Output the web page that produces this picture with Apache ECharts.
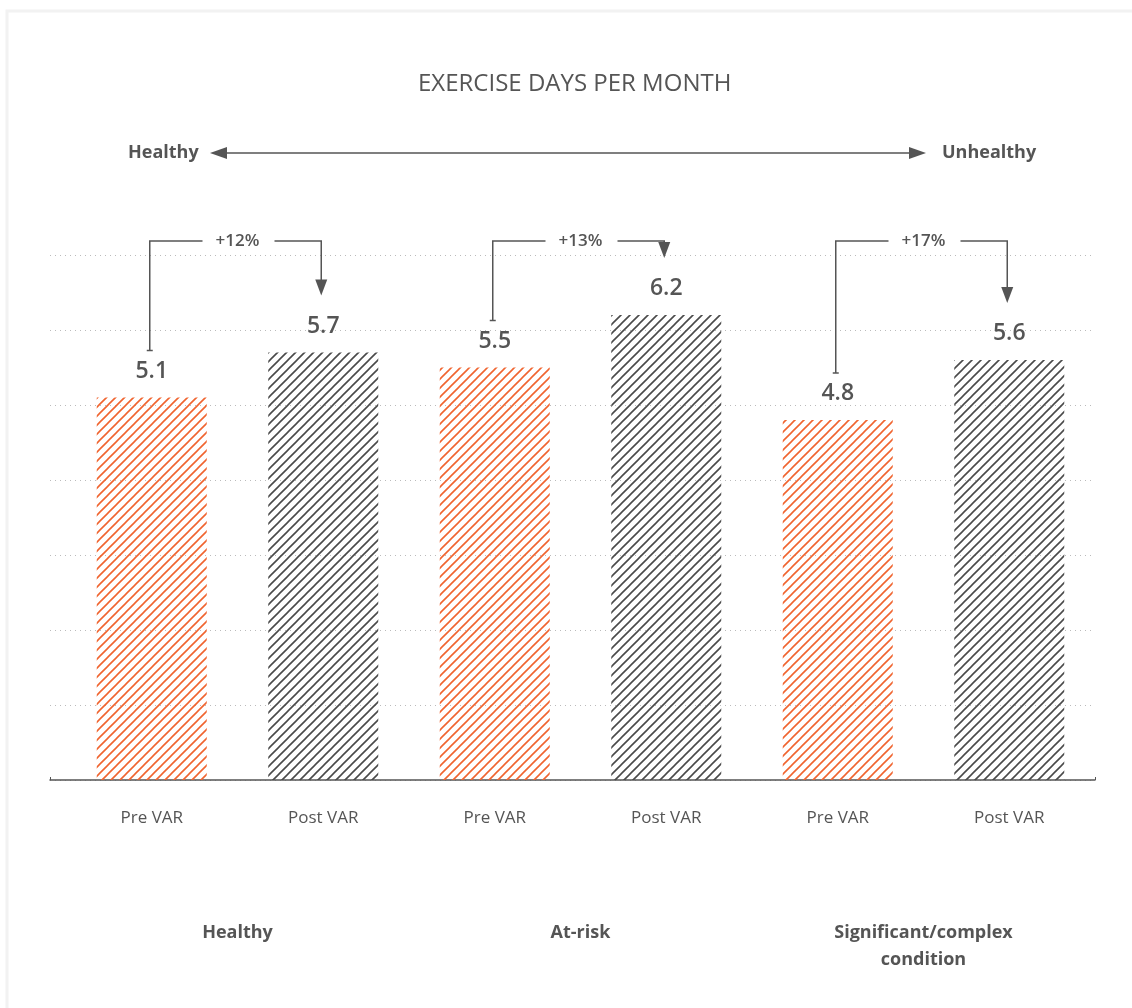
<!DOCTYPE html>
<html>
<head>
<meta charset="utf-8">
<script src="https://cdn.jsdelivr.net/npm/echarts@6/dist/echarts.min.js"></script>
<style>
  body { margin: 0; background: #fff; }
  #chart { width: 1132px; height: 1008px; }
</style>
</head>
<body>
<div id="chart"></div>
<script>
// data
const categories = ['Pre VAR', 'Post VAR', 'Pre VAR', 'Post VAR', 'Pre VAR', 'Post VAR'];
const groups = ['Healthy', 'At-risk', 'Significant/complex\ncondition'];
const preValues = [5.1, 5.5, 4.8];
const postValues = [5.7, 6.2, 5.6];
const changes = ['+12%', '+13%', '+17%'];
const yMax = 7;

const txt = '#555';
const font = '"Open Sans", "Noto Sans", sans-serif';

// diagonal hatch pattern
function stripes(color) {
  const s = 9;
  const c = document.createElement('canvas');
  c.width = s; c.height = s;
  const ctx = c.getContext('2d');
  ctx.strokeStyle = color;
  ctx.lineWidth = 1.6;
  ctx.beginPath();
  ctx.moveTo(0, s); ctx.lineTo(s, 0);
  ctx.moveTo(-s / 2, s / 2); ctx.lineTo(s / 2, -s / 2);
  ctx.moveTo(s / 2, s * 1.5); ctx.lineTo(s * 1.5, s / 2);
  ctx.stroke();
  return c;
}
const preFill = { image: stripes('#f0642f'), repeat: 'repeat' };
const postFill = { image: stripes('#4a4a4a'), repeat: 'repeat' };

const barData = [];
for (let i = 0; i < preValues.length; i++) {
  barData.push({ value: preValues[i], itemStyle: { color: preFill } });
  barData.push({ value: postValues[i], itemStyle: { color: postFill } });
}

const chart = echarts.init(document.getElementById('chart'));
const option = {
  backgroundColor: '#fff',
  textStyle: { fontFamily: font },
  animation: false,
  title: {
    text: 'EXERCISE DAYS PER MONTH',
    left: 413, top: 67,
    textStyle: { fontFamily: font, fontSize: 24, fontWeight: 'normal', color: txt }
  },
  grid: [
    { left: 50, width: 1045, top: 255, height: 525 },
    { left: 66, width: 1029, top: 255, height: 525 }
  ],
  xAxis: [
    {
      gridIndex: 0, type: 'value', min: 0, max: 1, interval: 1,
      axisLine: { show: true, lineStyle: { color: '#555', width: 1.5 } },
      axisTick: { show: true, length: 3, inside: true, lineStyle: { color: '#555' } },
      axisLabel: { show: false },
      splitLine: { show: false }
    },
    {
      gridIndex: 1, type: 'category', position: 'bottom', data: categories,
      axisLine: { show: false }, axisTick: { show: false },
      axisLabel: { margin: 30, fontSize: 17, color: txt, fontFamily: font }
    },
    {
      gridIndex: 1, type: 'category', position: 'bottom', data: groups,
      axisLine: { show: false }, axisTick: { show: false },
      axisLabel: { margin: 139, fontSize: 18, fontWeight: 'bold', color: txt, lineHeight: 27, fontFamily: font }
    }
  ],
  yAxis: [
    {
      gridIndex: 0, type: 'value', min: 0, max: yMax, interval: 1,
      axisLine: { show: false }, axisTick: { show: false }, axisLabel: { show: false },
      splitLine: { show: true, lineStyle: { color: '#bbb', type: [1, 4], width: 1 } }
    },
    {
      gridIndex: 1, type: 'value', min: 0, max: yMax, interval: 1, show: false,
      splitLine: { show: false }
    }
  ],
  series: [
    {
      type: 'bar', xAxisIndex: 1, yAxisIndex: 1,
      barWidth: 110,
      data: barData,
      label: {
        show: true, position: 'top', distance: 15,
        fontSize: 23, fontWeight: 600, color: txt, fontFamily: font,
        formatter: p => p.value.toFixed(1)
      }
    }
  ]
};
chart.setOption(option);

// annotations
const g = [];
const lineStyle = { stroke: '#555', lineWidth: 1.5 };
// frame
g.push({ type: 'rect', shape: { x: 7, y: 11, width: 1140, height: 1020 }, style: { fill: null, stroke: '#f2f2f2', lineWidth: 3 }, silent: true });
// healthy <-> unhealthy arrow
g.push({ type: 'text', x: 128, y: 153, style: { text: 'Healthy', font: 'bold 18px ' + font, fill: txt, verticalAlign: 'middle' } });
g.push({ type: 'text', x: 942, y: 153, style: { text: 'Unhealthy', font: 'bold 18px ' + font, fill: txt, verticalAlign: 'middle' } });
g.push({ type: 'line', shape: { x1: 222, y1: 153, x2: 912, y2: 153 }, style: lineStyle });
g.push({ type: 'polygon', shape: { points: [[210, 153], [227, 147], [227, 159]] }, style: { fill: '#555' } });
g.push({ type: 'polygon', shape: { points: [[926, 153], [909, 147], [909, 159]] }, style: { fill: '#555' } });

const topY = chart.convertToPixel({ yAxisIndex: 1 }, yMax) - 14;
for (let i = 0; i < preValues.length; i++) {
  const a = chart.convertToPixel({ xAxisIndex: 1, yAxisIndex: 1 }, [2 * i, preValues[i]]);
  const b = chart.convertToPixel({ xAxisIndex: 1, yAxisIndex: 1 }, [2 * i + 1, postValues[i]]);
  const x1 = a[0] - 2, x2 = b[0] - 2;
  const yStart = a[1] - 47;
  const yTip = b[1] - 57;
  const mid = (x1 + x2) / 2 + 2;
  g.push({ type: 'polyline', shape: { points: [[x1, yStart], [x1, topY], [mid - 35, topY]] }, style: Object.assign({ fill: null }, lineStyle) });
  g.push({ type: 'line', shape: { x1: x1 - 3, y1: yStart, x2: x1 + 3, y2: yStart }, style: lineStyle });
  g.push({ type: 'polyline', shape: { points: [[mid + 37, topY], [x2, topY], [x2, yTip - 14]] }, style: Object.assign({ fill: null }, lineStyle) });
  g.push({ type: 'polygon', shape: { points: [[x2, yTip], [x2 - 6, yTip - 16], [x2 + 6, yTip - 16]] }, style: { fill: '#555' } });
  g.push({ type: 'text', x: mid, y: topY, style: { text: changes[i], font: '600 17px ' + font, fill: txt, align: 'center', verticalAlign: 'middle' } });
}
chart.setOption({ graphic: g });
</script>
</body>
</html>
